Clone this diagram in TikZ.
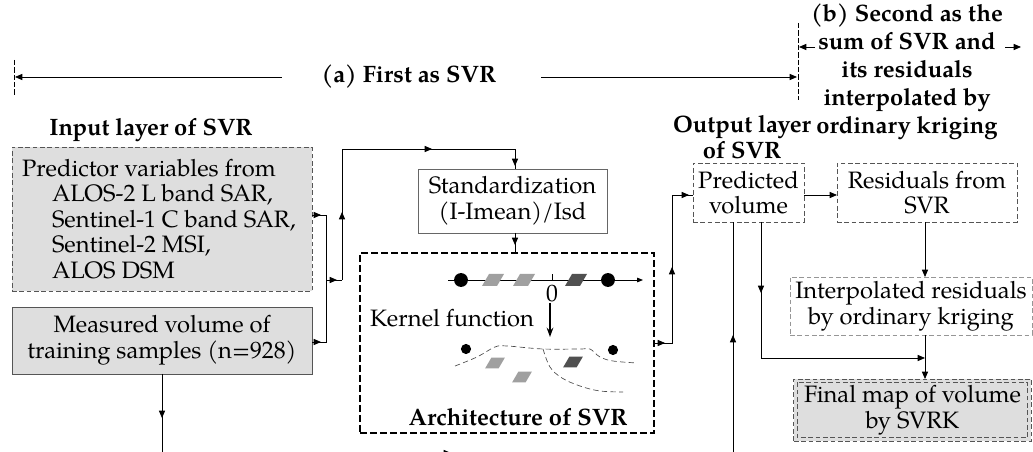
\documentclass[tikz,border=0pt]{standalone}
\usepackage{fontspec}
\setmainfont{TeX Gyre Pagella}
\usetikzlibrary{arrows.meta,decorations.markings}
\definecolor{panel}{RGB}{222,222,222}
\definecolor{rim}{RGB}{85,85,85}
\definecolor{softrim}{RGB}{150,150,150}
\definecolor{chipl}{RGB}{160,160,160}
\definecolor{chipd}{RGB}{80,80,80}
\begin{document}
\begin{tikzpicture}[x=0.75pt,y=-0.75pt,
  every node/.style={font=\fontsize{17.8}{19.2}\selectfont,inner sep=0pt,outer sep=0pt},
  hd/.style={font=\fontsize{17.8}{19.2}\selectfont\bfseries,align=center},
  box/.style={rectangle,draw=rim,line width=0.6pt,align=center},
  dbox/.style={box,dash pattern=on 3.5pt off 2pt},
  conn/.style={draw=black,line width=0.6pt},
  arr/.tip={Triangle[length=5.5pt,width=4.6pt]},
  tipat/.style={postaction={decorate,decoration={markings,mark=at position #1 with {\arrow{arr}}}}},
  marker/.style={draw=black,line width=0.6pt,dash pattern=on 4pt off 1.5pt},
  curvy/.style={draw=black!70,line width=0.5pt,dash pattern=on 4pt off 2.5pt},
  chip/.pic={\path[pic actions] (-11,6) -- (4,6) -- (11,-6) -- (-4,-6) -- cycle;},
]
\useasboundingbox (0,0) rectangle (1033,452);

% ---------- headings ----------
\node[hd] (alabel) at (409,77) {(a) First as SVR};
\node[hd,font=\fontsize{17.8}{21}\selectfont\bfseries] (blabel) at (907,72)
  {(b) Second as the\\sum of SVR and\\its residuals\\interpolated by\\ordinary kriging};
\node[hd] (inlbl) at (151,130) {Input layer of SVR};
\node[hd] (outlbl) at (742,137) {Output layer\\of SVR};

% ---------- boxes ----------
\node[dbox,fill=panel,minimum width=225pt,minimum height=108pt] (inp) at (162,219) {};
\node[anchor=west,align=left] (inptxt) at (22,219)
  {Predictor variables from\\\hspace*{22.5pt}ALOS-2 L band SAR,\\\hspace*{22.5pt}Sentinel-1 C band SAR,\\\hspace*{22.5pt}Sentinel-2 MSI,\\\hspace*{22.5pt}ALOS DSM};
\node[box,fill=panel,minimum width=225pt,minimum height=50.25pt] (meas) at (162,340.5)
  {Measured volume of\\training samples (n=928)};
\node[box,draw=black!60,minimum width=141.75pt,minimum height=48pt] (std) at (512.5,201)
  {Standardization\\(I-Imean)/Isd};
\node[rectangle,draw=black,line width=1.2pt,dash pattern=on 5pt off 2.5pt,minimum width=220.5pt,minimum height=135pt] (arch) at (507,343) {};
\node[hd] (archlbl) at (518,417) {Architecture of SVR};
\node[dbox,minimum width=83.25pt,minimum height=44.25pt] (pred) at (748.5,192.5) {Predicted\\volume};
\node[dbox,minimum width=135pt,minimum height=44.25pt] (res) at (927,192.5) {Residuals from\\SVR};
\node[dbox,draw=softrim,minimum width=181.5pt,minimum height=43.5pt] (interp) at (911,306)
  {Interpolated residuals\\by ordinary kriging};
\node[dbox,fill=panel,minimum width=178pt,minimum height=46.5pt] (fin) at (912.5,410)
  {Final map of volume\\by SVRK};
% inner rule of the double frame
\draw[rim,line width=0.6pt,dash pattern=on 3.5pt off 2pt]
  ([xshift=2.6pt,yshift=-2.6pt]fin.north west) rectangle ([xshift=-2.6pt,yshift=2.6pt]fin.south east);

% ---------- inside the SVR architecture ----------
\coordinate (ax0) at (448,280);
\coordinate (ax1) at (643,280);
\draw[conn,-{Triangle[length=4.5pt,width=3.5pt]}] (ax0) -- (ax1);
\coordinate (tk0) at (552,280);
\coordinate (tk1) at (552,274);
\draw[conn] (tk0) -- (tk1);
\node (zero) at (552,294) {0};
\fill (461,280) circle[radius=5.2pt];
\fill (608,280) circle[radius=5.2pt];
\pic[fill=chipl] at (493,280) {chip};
\pic[fill=chipl] at (524,280) {chip};
\pic[fill=chipd] at (576,280) {chip};
\node (kern) at (452,318) {Kernel function};
\coordinate (kf0) at (550,303);
\coordinate (kf1) at (550,337);
\draw[line width=1.3pt,-{Stealth[length=7pt,width=5pt]}] (kf0) -- (kf1);
\fill (466,349) circle[radius=3.8pt];
\fill (613,350) circle[radius=3.8pt];
\draw[curvy] plot[smooth,tension=0.6] coordinates {(455,366) (477,357) (495,347) (507,346) (543,349) (580,349) (590,349) (600,357) (613,361) (637,363)};
\draw[curvy] plot[smooth,tension=0.6] coordinates {(543,349) (550,367) (562,378) (580,386) (600,391) (623,392)};
\pic[fill=chipl,scale=0.9] at (495,363) {chip};
\pic[fill=chipl,scale=0.9] at (522,377) {chip};
\pic[fill=chipd,scale=0.9] at (573,362) {chip};

% ---------- scope markers at the top ----------
\coordinate (lt) at (14,60);
\coordinate (lb) at (14,96);
\coordinate (rt) at (798,23);
\coordinate (rb) at (798,100);
\draw[marker] (lt) -- (lb);
\draw[marker] (rt) -- (rb);
\coordinate (lw) at (15,77);
\coordinate (rw) at (797,77);
\draw[conn,-{arr}] (alabel.west) ++(-40,0) -- (lw);
\draw[conn,-{arr}] (alabel.east) ++(45,0) -- (rw);
\coordinate (bl0) at (815,47);
\coordinate (bl1) at (799,47);
\coordinate (br0) at (1005,47);
\coordinate (br1) at (1021,47);
\draw[conn,-{arr}] (bl0) -- (bl1);
\draw[conn,-{arr}] (br0) -- (br1);

% ---------- connectors ----------
\coordinate (ja) at (326,215);
\coordinate (jb) at (326,280);
\coordinate (jc) at (326,342);
\coordinate (jd) at (342,280);
\coordinate (je) at (342,149);
\coordinate (jf) at (515,149);
\coordinate (jg) at (672,343);
\coordinate (jh) at (672,195);
\coordinate (ji) at (761,358);
\coordinate (jj) at (925,358);
\coordinate (jk) at (733,460);
\coordinate (jl) at (162,460);
\coordinate (jm) at (380,453);
\coordinate (jn) at (451,453);

\draw[conn,tipat=6.75pt] (inp.east |- ja) -- (ja) -- (jb);
\draw[conn,tipat=6.75pt] (meas.east |- jc) -- (jc) -- (jb);
\draw[conn,tipat=8.25pt] (jb) -- (jd);
\draw[conn,tipat=51pt,tipat=165.75pt,tipat=240.75pt] (jd) -- (je) -- (jf) -- (jf |- std.north);
\draw[conn,tipat=9pt] (std.south -| jf) -- (arch.north -| jf);
\draw[conn,tipat=8.25pt,tipat=70.5pt,tipat=137.25pt] (arch.east |- jg) -- (jg) -- (jh) -- (pred.west |- jh);
\draw[conn,-{arr}] (pred.east |- jh) -- (res.west |- jh);
\draw[conn,-{arr}] (res.south -| jj) -- (interp.north -| jj);
\draw[conn,tipat=53.25pt,-{arr}] (pred.south -| ji) -- (ji) -- (jj);
\draw[conn,-{arr}] (interp.south -| jj) -- (fin.north -| jj);
\draw[conn,tipat=93.75pt] (jk) -- (pred.south -| jk);
\draw[conn,tipat=33pt] (meas.south -| jl) -- (jl);
\draw[conn,-{arr}] (jm) -- (jn);
\end{tikzpicture}
\end{document}
